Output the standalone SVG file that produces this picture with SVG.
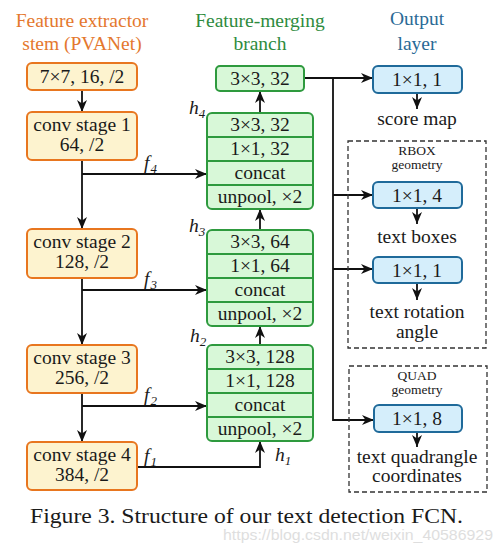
<svg xmlns="http://www.w3.org/2000/svg" width="503" height="548" viewBox="0 0 503 548">
<style>
text{font-family:"Liberation Serif","Times New Roman",serif;font-size:19.5px;fill:#1a1a1a;text-anchor:middle}
.it{font-style:italic;text-anchor:start}
.sub{font-size:13px}
.small{font-size:13.5px}
.ttl-o{fill:#E4782E}
.ttl-g{fill:#2E8B3E}
.ttl-b{fill:#2A6A96}
.stem{fill:#FDF3CF;stroke:#E8761F;stroke-width:2}
.merge{fill:#D8F8D8;stroke:#2E9A3E;stroke-width:2}
.div{stroke:#2E9A3E;stroke-width:2}
.out{fill:#D5EEFB;stroke:#1F6A9A;stroke-width:2}
.dash{fill:none;stroke:#333;stroke-width:1.3;stroke-dasharray:5,3}
.c{fill:none;stroke:#111;stroke-width:1.8}
.ca{fill:none;stroke:#111;stroke-width:1.8;marker-end:url(#arr)}
</style>
<defs>
<marker id="arr" viewBox="0 0 12 10" refX="12" refY="5" markerWidth="12" markerHeight="10" orient="auto" markerUnits="userSpaceOnUse">
<path d="M0,0 L12,5 L0,10 L3.5,5 z" fill="#111"/>
</marker>
</defs>
<rect width="503" height="548" fill="#fff"/>

<g id="titles">
<text class="ttl-o" x="82" y="27">Feature extractor</text>
<text class="ttl-o" x="82" y="50">stem (PVANet)</text>
<text class="ttl-g" x="260" y="27">Feature-merging</text>
<text class="ttl-g" x="260" y="50">branch</text>
<text class="ttl-b" x="417" y="25">Output</text>
<text class="ttl-b" x="417" y="50">layer</text>
</g>

<g id="connectors">
<line class="ca" x1="82" y1="90" x2="82" y2="112"/>
<line class="ca" x1="82" y1="160" x2="82" y2="229"/>
<line class="ca" x1="82" y1="278" x2="82" y2="345"/>
<line class="ca" x1="82" y1="393" x2="82" y2="442"/>
<line class="ca" x1="82" y1="174" x2="207" y2="174"/>
<line class="ca" x1="82" y1="290" x2="207" y2="290"/>
<line class="ca" x1="82" y1="406" x2="207" y2="406"/>
<path class="ca" d="M137,467 H260 V441"/>
<line class="ca" x1="260" y1="345" x2="260" y2="326"/>
<line class="ca" x1="260" y1="230" x2="260" y2="209"/>
<line class="ca" x1="260" y1="113" x2="260" y2="91"/>
<line class="ca" x1="304" y1="78" x2="373" y2="78"/>
<path class="ca" d="M333,78 V420 H374"/>
<line class="ca" x1="333" y1="195" x2="373" y2="195"/>
<line class="ca" x1="333" y1="269" x2="373" y2="269"/>
<line class="ca" x1="417" y1="93" x2="417" y2="109"/>
<line class="ca" x1="417" y1="208" x2="417" y2="224"/>
<line class="ca" x1="417" y1="283" x2="417" y2="300"/>
<line class="ca" x1="417" y1="432" x2="417" y2="447"/>
<text class="it" x="144" y="169">f<tspan class="sub" dx="1" dy="4">4</tspan></text>
<text class="it" x="144" y="285">f<tspan class="sub" dx="1" dy="4">3</tspan></text>
<text class="it" x="144" y="401">f<tspan class="sub" dx="1" dy="4">2</tspan></text>
<text class="it" x="144" y="462">f<tspan class="sub" dx="1" dy="4">1</tspan></text>
<text class="it" x="189" y="114">h<tspan class="sub" dy="4">4</tspan></text>
<text class="it" x="189" y="232">h<tspan class="sub" dy="4">3</tspan></text>
<text class="it" x="190" y="342">h<tspan class="sub" dy="4">2</tspan></text>
<text class="it" x="275" y="461">h<tspan class="sub" dy="4">1</tspan></text>
</g>

<g id="stem0"><rect class="stem" x="27" y="63" width="110" height="27" rx="5"/><text x="82" y="83">7×7, 16, /2</text></g>
<g id="stem1"><rect class="stem" x="27" y="112" width="110" height="48" rx="5"/><text x="82" y="131">conv stage 1</text><text x="82" y="151">64, /2</text></g>
<g id="stem2"><rect class="stem" x="27" y="229" width="110" height="49" rx="5"/><text x="82" y="248">conv stage 2</text><text x="82" y="268">128, /2</text></g>
<g id="stem3"><rect class="stem" x="27" y="345" width="110" height="48" rx="5"/><text x="82" y="364">conv stage 3</text><text x="82" y="384">256, /2</text></g>
<g id="stem4"><rect class="stem" x="27" y="442" width="110" height="48" rx="5"/><text x="82" y="461">conv stage 4</text><text x="82" y="481">384, /2</text></g>

<g id="merge-top"><rect class="merge" x="216" y="66" width="88" height="25" rx="4"/><text x="260" y="85">3×3, 32</text></g>
<g id="merge1">
<rect class="merge" x="207" y="113" width="106" height="96" rx="5"/>
<line class="div" x1="207" y1="137" x2="313" y2="137"/><line class="div" x1="207" y1="161" x2="313" y2="161"/><line class="div" x1="207" y1="185" x2="313" y2="185"/>
<text x="260" y="131">3×3, 32</text><text x="260" y="155">1×1, 32</text><text x="260" y="179">concat</text><text x="260" y="203">unpool, ×2</text>
</g>
<g id="merge2">
<rect class="merge" x="207" y="230" width="106" height="96" rx="5"/>
<line class="div" x1="207" y1="254" x2="313" y2="254"/><line class="div" x1="207" y1="278" x2="313" y2="278"/><line class="div" x1="207" y1="302" x2="313" y2="302"/>
<text x="260" y="248">3×3, 64</text><text x="260" y="272">1×1, 64</text><text x="260" y="296">concat</text><text x="260" y="320">unpool, ×2</text>
</g>
<g id="merge3">
<rect class="merge" x="207" y="345" width="106" height="96" rx="5"/>
<line class="div" x1="207" y1="369" x2="313" y2="369"/><line class="div" x1="207" y1="393" x2="313" y2="393"/><line class="div" x1="207" y1="417" x2="313" y2="417"/>
<text x="260" y="363">3×3, 128</text><text x="260" y="387">1×1, 128</text><text x="260" y="411">concat</text><text x="260" y="435">unpool, ×2</text>
</g>

<g id="out-score"><rect class="out" x="373" y="66" width="89" height="27" rx="5"/><text x="417" y="86">1×1, 1</text><text x="417" y="125">score map</text></g>
<g id="rbox">
<rect class="dash" x="348" y="141" width="138" height="207"/>
<text class="small" x="417" y="155">RBOX</text><text class="small" x="417" y="169">geometry</text>
</g>
<g id="out-boxes"><rect class="out" x="373" y="182" width="89" height="26" rx="5"/><text x="417" y="202">1×1, 4</text><text x="417" y="243">text boxes</text></g>
<g id="out-angle"><rect class="out" x="373" y="257" width="89" height="26" rx="5"/><text x="417" y="318">text rotation</text><text x="417" y="338">angle</text><text x="417" y="277">1×1, 1</text></g>
<g id="quad">
<rect class="dash" x="349" y="366" width="138" height="126"/>
<text class="small" x="417" y="380">QUAD</text><text class="small" x="417" y="394">geometry</text>
</g>
<g id="out-quad"><rect class="out" x="374" y="405" width="88" height="27" rx="5"/><text x="417" y="425">1×1, 8</text><text x="417" y="463">text quadrangle</text><text x="417" y="482">coordinates</text></g>

<text x="30" y="523" style="text-anchor:start;font-size:20px" textLength="433" lengthAdjust="spacingAndGlyphs">Figure 3. Structure of our text detection FCN.</text>
<text x="223" y="540" style="text-anchor:start;font-family:'Liberation Sans',Arial,sans-serif;font-size:15.5px;fill:#dedede" textLength="270" lengthAdjust="spacingAndGlyphs">https://blog.csdn.net/weixin_40586929</text>
</svg>
